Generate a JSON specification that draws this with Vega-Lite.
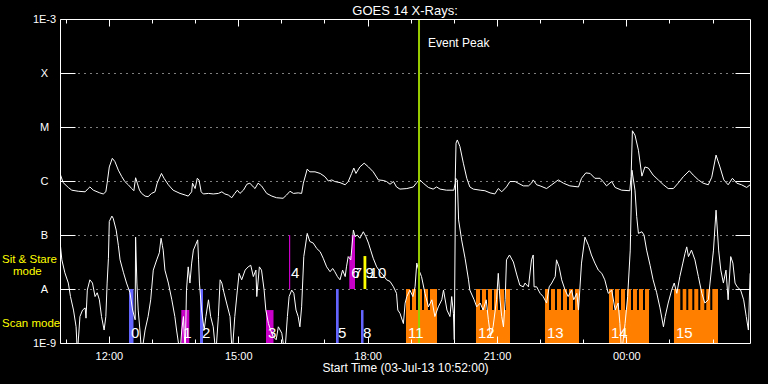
{
  "$schema": "https://vega.github.io/schema/vega-lite/v6.json",
  "width": 690,
  "height": 324,
  "autosize": {"type": "none"},
  "padding": {"left": 60, "top": 19, "right": 18, "bottom": 41},
  "background": "black",
  "title": {"text": "GOES 14 X-Rays:", "color": "white", "font": "Liberation Sans", "fontSize": 13, "fontWeight": "normal", "anchor": "middle", "offset": -5},
  "config": {
    "view": {"stroke": null},
    "font": "Liberation Sans",
    "axis": {"labelColor": "white", "tickColor": "white", "domainColor": "white", "gridColor": "white", "gridOpacity": 1, "labelFont": "Liberation Sans", "labelFontSize": 11, "titleFont": "Liberation Sans", "titleFontSize": 12, "titleFontWeight": "normal", "titleColor": "white", "tickWidth": 1, "domainWidth": 1}
  },
  "resolve": {"axis": {"x": "independent", "y": "independent"}},
  "datasets": {
    "long": [
      {"t":10.88,"lg":-5.89},{"t":10.94,"lg":-6.03},{"t":11.06,"lg":-6.12},{"t":11.14,"lg":-6.17},{"t":11.29,"lg":-6.19},{"t":11.45,"lg":-6.20},{"t":11.52,"lg":-6.14},{"t":11.56,"lg":-6.11},{"t":11.64,"lg":-6.17},{"t":11.79,"lg":-6.22},{"t":11.87,"lg":-6.24},{"t":11.93,"lg":-6.20},{"t":11.96,"lg":-6.04},{"t":12.01,"lg":-5.74},{"t":12.08,"lg":-5.58},{"t":12.14,"lg":-5.64},{"t":12.22,"lg":-5.80},{"t":12.30,"lg":-5.92},{"t":12.37,"lg":-6.01},{"t":12.45,"lg":-6.07},{"t":12.53,"lg":-6.14},{"t":12.58,"lg":-6.18},{"t":12.62,"lg":-5.94},{"t":12.66,"lg":-6.04},{"t":12.71,"lg":-6.17},{"t":12.76,"lg":-6.23},{"t":12.84,"lg":-6.28},{"t":12.91,"lg":-6.29},{"t":12.99,"lg":-6.23},{"t":13.07,"lg":-6.20},{"t":13.12,"lg":-6.04},{"t":13.22,"lg":-5.86},{"t":13.28,"lg":-5.95},{"t":13.38,"lg":-6.07},{"t":13.49,"lg":-6.17},{"t":13.65,"lg":-6.23},{"t":13.77,"lg":-6.26},{"t":13.84,"lg":-6.28},{"t":13.92,"lg":-6.20},{"t":13.94,"lg":-6.04},{"t":14.00,"lg":-6.14},{"t":14.05,"lg":-5.95},{"t":14.09,"lg":-5.98},{"t":14.14,"lg":-6.20},{"t":14.19,"lg":-6.24},{"t":14.31,"lg":-6.23},{"t":14.42,"lg":-6.24},{"t":14.54,"lg":-6.23},{"t":14.62,"lg":-6.20},{"t":14.69,"lg":-6.24},{"t":14.77,"lg":-6.26},{"t":14.85,"lg":-6.31},{"t":14.92,"lg":-6.23},{"t":14.98,"lg":-6.17},{"t":15.04,"lg":-6.23},{"t":15.12,"lg":-6.17},{"t":15.20,"lg":-6.06},{"t":15.27,"lg":-6.04},{"t":15.35,"lg":-6.11},{"t":15.39,"lg":-6.14},{"t":15.46,"lg":-6.04},{"t":15.54,"lg":-6.09},{"t":15.66,"lg":-6.23},{"t":15.78,"lg":-6.28},{"t":15.89,"lg":-6.31},{"t":16.04,"lg":-6.32},{"t":16.12,"lg":-6.26},{"t":16.20,"lg":-6.19},{"t":16.28,"lg":-6.23},{"t":16.39,"lg":-6.22},{"t":16.47,"lg":-6.23},{"t":16.51,"lg":-6.04},{"t":16.60,"lg":-5.78},{"t":16.66,"lg":-5.83},{"t":16.78,"lg":-5.83},{"t":16.90,"lg":-5.86},{"t":17.01,"lg":-5.92},{"t":17.09,"lg":-6.00},{"t":17.17,"lg":-5.98},{"t":17.24,"lg":-6.01},{"t":17.36,"lg":-6.03},{"t":17.48,"lg":-6.07},{"t":17.55,"lg":-6.01},{"t":17.63,"lg":-5.86},{"t":17.68,"lg":-5.76},{"t":17.73,"lg":-5.86},{"t":17.82,"lg":-5.74},{"t":17.92,"lg":-5.67},{"t":18.02,"lg":-5.74},{"t":18.13,"lg":-5.83},{"t":18.25,"lg":-5.98},{"t":18.36,"lg":-5.99},{"t":18.44,"lg":-6.01},{"t":18.52,"lg":-6.06},{"t":18.60,"lg":-6.01},{"t":18.67,"lg":-6.11},{"t":18.75,"lg":-6.15},{"t":18.91,"lg":-6.14},{"t":19.06,"lg":-6.11},{"t":19.14,"lg":-6.03},{"t":19.20,"lg":-5.97},{"t":19.29,"lg":-6.04},{"t":19.41,"lg":-6.12},{"t":19.52,"lg":-6.15},{"t":19.60,"lg":-6.11},{"t":19.68,"lg":-6.15},{"t":19.83,"lg":-6.17},{"t":20.00,"lg":-6.17},{"t":20.03,"lg":-6.04},{"t":20.05,"lg":-5.30},{"t":20.08,"lg":-5.24},{"t":20.14,"lg":-5.36},{"t":20.22,"lg":-5.67},{"t":20.30,"lg":-5.95},{"t":20.37,"lg":-6.11},{"t":20.45,"lg":-6.15},{"t":20.61,"lg":-6.17},{"t":20.72,"lg":-6.18},{"t":20.84,"lg":-6.22},{"t":20.95,"lg":-6.24},{"t":21.03,"lg":-6.14},{"t":21.11,"lg":-6.20},{"t":21.22,"lg":-6.11},{"t":21.30,"lg":-6.01},{"t":21.42,"lg":-6.01},{"t":21.49,"lg":-6.04},{"t":21.61,"lg":-6.09},{"t":21.73,"lg":-6.09},{"t":21.80,"lg":-6.04},{"t":21.84,"lg":-5.98},{"t":21.92,"lg":-6.07},{"t":22.00,"lg":-6.09},{"t":22.15,"lg":-6.14},{"t":22.27,"lg":-6.07},{"t":22.42,"lg":-5.98},{"t":22.54,"lg":-6.04},{"t":22.69,"lg":-6.09},{"t":22.89,"lg":-6.11},{"t":22.96,"lg":-5.95},{"t":23.06,"lg":-5.85},{"t":23.16,"lg":-5.86},{"t":23.27,"lg":-5.95},{"t":23.39,"lg":-5.95},{"t":23.46,"lg":-6.01},{"t":23.54,"lg":-6.09},{"t":23.66,"lg":-6.01},{"t":23.74,"lg":-6.12},{"t":23.89,"lg":-6.17},{"t":24.08,"lg":-6.18},{"t":24.11,"lg":-5.92},{"t":24.14,"lg":-5.07},{"t":24.20,"lg":-5.15},{"t":24.28,"lg":-5.43},{"t":24.36,"lg":-5.91},{"t":24.43,"lg":-5.74},{"t":24.51,"lg":-5.76},{"t":24.62,"lg":-5.89},{"t":24.74,"lg":-5.98},{"t":24.86,"lg":-6.07},{"t":24.97,"lg":-6.14},{"t":25.09,"lg":-6.14},{"t":25.20,"lg":-6.04},{"t":25.32,"lg":-5.92},{"t":25.46,"lg":-5.81},{"t":25.55,"lg":-5.89},{"t":25.67,"lg":-5.98},{"t":25.78,"lg":-6.04},{"t":25.90,"lg":-6.07},{"t":25.98,"lg":-5.93},{"t":26.08,"lg":-5.52},{"t":26.17,"lg":-5.74},{"t":26.26,"lg":-5.98},{"t":26.36,"lg":-6.07},{"t":26.46,"lg":-5.95},{"t":26.56,"lg":-6.04},{"t":26.67,"lg":-6.07},{"t":26.79,"lg":-6.12},{"t":26.87,"lg":-6.07}
    ],
    "short": [
      {"t":10.88,"lg":-7.22},{"t":10.91,"lg":-7.46},{"t":10.98,"lg":-7.70},{"t":11.06,"lg":-7.89},{"t":11.11,"lg":-8.14},{"t":11.18,"lg":-8.39},{"t":11.24,"lg":-8.70},{"t":11.27,"lg":-9.2},{"t":11.33,"lg":-8.51},{"t":11.39,"lg":-8.39},{"t":11.45,"lg":-8.35},{"t":11.47,"lg":-8.54},{"t":11.50,"lg":-8.02},{"t":11.56,"lg":-7.83},{"t":11.62,"lg":-7.89},{"t":11.68,"lg":-8.14},{"t":11.73,"lg":-8.07},{"t":11.78,"lg":-8.20},{"t":11.83,"lg":-8.51},{"t":11.89,"lg":-8.76},{"t":11.93,"lg":-8.51},{"t":11.96,"lg":-7.89},{"t":11.99,"lg":-7.43},{"t":12.01,"lg":-6.75},{"t":12.07,"lg":-6.65},{"t":12.10,"lg":-6.69},{"t":12.17,"lg":-6.91},{"t":12.22,"lg":-7.19},{"t":12.26,"lg":-7.46},{"t":12.34,"lg":-7.70},{"t":12.41,"lg":-7.89},{"t":12.49,"lg":-8.07},{"t":12.55,"lg":-8.39},{"t":12.61,"lg":-8.57},{"t":12.62,"lg":-7.04},{"t":12.65,"lg":-7.89},{"t":12.68,"lg":-8.39},{"t":12.72,"lg":-8.76},{"t":12.76,"lg":-9.2},{"t":12.84,"lg":-8.76},{"t":12.91,"lg":-8.51},{"t":12.97,"lg":-8.20},{"t":13.03,"lg":-7.65},{"t":13.11,"lg":-7.46},{"t":13.17,"lg":-7.33},{"t":13.21,"lg":-7.06},{"t":13.24,"lg":-7.19},{"t":13.26,"lg":-7.28},{"t":13.30,"lg":-7.65},{"t":13.38,"lg":-7.89},{"t":13.46,"lg":-8.20},{"t":13.53,"lg":-8.51},{"t":13.57,"lg":-8.76},{"t":13.65,"lg":-9.2},{"t":13.69,"lg":-8.76},{"t":13.73,"lg":-8.51},{"t":13.77,"lg":-9.2},{"t":13.80,"lg":-8.02},{"t":13.84,"lg":-7.59},{"t":13.88,"lg":-7.89},{"t":13.92,"lg":-7.52},{"t":13.96,"lg":-7.28},{"t":14.06,"lg":-7.09},{"t":14.08,"lg":-7.46},{"t":14.10,"lg":-7.89},{"t":14.15,"lg":-8.39},{"t":14.21,"lg":-8.76},{"t":14.25,"lg":-8.51},{"t":14.31,"lg":-8.20},{"t":14.36,"lg":-8.51},{"t":14.42,"lg":-8.70},{"t":14.48,"lg":-9.2},{"t":14.54,"lg":-8.51},{"t":14.58,"lg":-7.83},{"t":14.62,"lg":-7.89},{"t":14.67,"lg":-8.07},{"t":14.73,"lg":-8.26},{"t":14.81,"lg":-8.51},{"t":14.86,"lg":-9.2},{"t":14.92,"lg":-8.51},{"t":14.98,"lg":-8.02},{"t":15.02,"lg":-7.71},{"t":15.08,"lg":-7.83},{"t":15.16,"lg":-7.65},{"t":15.23,"lg":-7.59},{"t":15.29,"lg":-7.56},{"t":15.35,"lg":-7.77},{"t":15.41,"lg":-7.65},{"t":15.43,"lg":-8.14},{"t":15.49,"lg":-7.59},{"t":15.54,"lg":-7.65},{"t":15.60,"lg":-8.02},{"t":15.64,"lg":-8.39},{"t":15.70,"lg":-8.64},{"t":15.75,"lg":-8.76},{"t":15.81,"lg":-8.88},{"t":15.88,"lg":-8.94},{"t":15.93,"lg":-8.70},{"t":16.01,"lg":-8.82},{"t":16.08,"lg":-9.2},{"t":16.14,"lg":-8.51},{"t":16.18,"lg":-8.14},{"t":16.24,"lg":-8.02},{"t":16.29,"lg":-8.08},{"t":16.34,"lg":-8.39},{"t":16.39,"lg":-8.51},{"t":16.43,"lg":-8.70},{"t":16.47,"lg":-8.33},{"t":16.52,"lg":-7.40},{"t":16.60,"lg":-6.97},{"t":16.66,"lg":-7.12},{"t":16.74,"lg":-7.15},{"t":16.82,"lg":-7.25},{"t":16.90,"lg":-7.31},{"t":16.97,"lg":-7.43},{"t":17.05,"lg":-7.59},{"t":17.13,"lg":-7.68},{"t":17.19,"lg":-7.62},{"t":17.24,"lg":-7.68},{"t":17.30,"lg":-7.77},{"t":17.36,"lg":-7.83},{"t":17.42,"lg":-7.65},{"t":17.48,"lg":-7.77},{"t":17.51,"lg":-7.59},{"t":17.55,"lg":-7.40},{"t":17.61,"lg":-7.46},{"t":17.67,"lg":-6.91},{"t":17.71,"lg":-7.03},{"t":17.76,"lg":-7.00},{"t":17.82,"lg":-7.06},{"t":17.90,"lg":-6.94},{"t":17.96,"lg":-7.03},{"t":18.02,"lg":-7.15},{"t":18.07,"lg":-7.28},{"t":18.13,"lg":-7.43},{"t":18.21,"lg":-7.59},{"t":18.29,"lg":-7.68},{"t":18.36,"lg":-7.74},{"t":18.44,"lg":-7.83},{"t":18.52,"lg":-7.86},{"t":18.60,"lg":-7.96},{"t":18.67,"lg":-8.08},{"t":18.70,"lg":-8.39},{"t":18.75,"lg":-8.45},{"t":18.83,"lg":-8.64},{"t":18.87,"lg":-8.26},{"t":18.91,"lg":-8.14},{"t":18.98,"lg":-8.02},{"t":19.05,"lg":-8.14},{"t":19.10,"lg":-7.96},{"t":19.14,"lg":-7.52},{"t":19.17,"lg":-7.61},{"t":19.25,"lg":-7.77},{"t":19.33,"lg":-8.08},{"t":19.41,"lg":-8.33},{"t":19.49,"lg":-8.20},{"t":19.56,"lg":-8.51},{"t":19.64,"lg":-8.33},{"t":19.72,"lg":-8.20},{"t":19.76,"lg":-8.02},{"t":19.84,"lg":-8.39},{"t":19.91,"lg":-8.51},{"t":19.95,"lg":-8.14},{"t":19.99,"lg":-8.45},{"t":20.01,"lg":-8.94},{"t":20.04,"lg":-5.95},{"t":20.08,"lg":-5.98},{"t":20.11,"lg":-6.72},{"t":20.18,"lg":-7.09},{"t":20.26,"lg":-7.43},{"t":20.34,"lg":-7.83},{"t":20.37,"lg":-8.02},{"t":20.47,"lg":-8.20},{"t":20.53,"lg":-8.33},{"t":20.61,"lg":-8.26},{"t":20.68,"lg":-8.39},{"t":20.75,"lg":-8.20},{"t":20.80,"lg":-8.57},{"t":20.85,"lg":-8.88},{"t":20.91,"lg":-8.70},{"t":20.99,"lg":-8.20},{"t":21.03,"lg":-7.71},{"t":21.07,"lg":-8.20},{"t":21.11,"lg":-8.51},{"t":21.15,"lg":-8.70},{"t":21.19,"lg":-8.20},{"t":21.22,"lg":-7.46},{"t":21.29,"lg":-7.37},{"t":21.38,"lg":-7.50},{"t":21.46,"lg":-7.74},{"t":21.53,"lg":-7.93},{"t":21.61,"lg":-7.96},{"t":21.65,"lg":-7.89},{"t":21.73,"lg":-7.96},{"t":21.80,"lg":-7.46},{"t":21.84,"lg":-7.37},{"t":21.86,"lg":-7.96},{"t":21.92,"lg":-7.96},{"t":22.00,"lg":-8.08},{"t":22.07,"lg":-8.14},{"t":22.15,"lg":-8.26},{"t":22.21,"lg":-7.96},{"t":22.27,"lg":-7.89},{"t":22.35,"lg":-7.77},{"t":22.38,"lg":-7.46},{"t":22.44,"lg":-7.59},{"t":22.50,"lg":-7.83},{"t":22.58,"lg":-8.02},{"t":22.65,"lg":-8.14},{"t":22.73,"lg":-8.02},{"t":22.78,"lg":-8.20},{"t":22.85,"lg":-8.08},{"t":22.89,"lg":-8.39},{"t":22.92,"lg":-8.02},{"t":22.96,"lg":-7.52},{"t":23.04,"lg":-7.04},{"t":23.12,"lg":-7.19},{"t":23.19,"lg":-7.37},{"t":23.27,"lg":-7.52},{"t":23.35,"lg":-7.65},{"t":23.43,"lg":-7.71},{"t":23.50,"lg":-7.83},{"t":23.58,"lg":-8.08},{"t":23.66,"lg":-8.02},{"t":23.74,"lg":-8.39},{"t":23.81,"lg":-8.26},{"t":23.85,"lg":-8.64},{"t":23.89,"lg":-9.2},{"t":23.97,"lg":-8.64},{"t":24.03,"lg":-8.14},{"t":24.09,"lg":-7.28},{"t":24.13,"lg":-5.80},{"t":24.20,"lg":-6.17},{"t":24.24,"lg":-6.66},{"t":24.28,"lg":-6.97},{"t":24.36,"lg":-6.94},{"t":24.41,"lg":-7.00},{"t":24.47,"lg":-7.28},{"t":24.55,"lg":-7.56},{"t":24.62,"lg":-7.83},{"t":24.70,"lg":-8.06},{"t":24.78,"lg":-8.35},{"t":24.86,"lg":-8.70},{"t":24.90,"lg":-8.51},{"t":24.97,"lg":-8.26},{"t":25.05,"lg":-8.02},{"t":25.11,"lg":-7.89},{"t":25.17,"lg":-8.08},{"t":25.24,"lg":-7.77},{"t":25.31,"lg":-7.52},{"t":25.36,"lg":-7.34},{"t":25.40,"lg":-7.22},{"t":25.44,"lg":-7.40},{"t":25.51,"lg":-7.28},{"t":25.59,"lg":-7.46},{"t":25.67,"lg":-7.77},{"t":25.75,"lg":-8.08},{"t":25.82,"lg":-8.26},{"t":25.90,"lg":-8.20},{"t":25.94,"lg":-7.89},{"t":26.02,"lg":-7.28},{"t":26.08,"lg":-6.54},{"t":26.14,"lg":-7.28},{"t":26.19,"lg":-7.65},{"t":26.25,"lg":-7.89},{"t":26.31,"lg":-7.65},{"t":26.36,"lg":-8.20},{"t":26.42,"lg":-7.40},{"t":26.47,"lg":-7.52},{"t":26.52,"lg":-7.89},{"t":26.57,"lg":-7.96},{"t":26.65,"lg":-8.02},{"t":26.72,"lg":-8.20},{"t":26.78,"lg":-8.51},{"t":26.83,"lg":-8.76},{"t":26.87,"lg":-7.71}
    ],
    "obs": [
      {"id":"0","mode":"scan","kind":"K1","t0":12.467,"t1":12.571,"lo":-9,"hi":-8},
      {"id":"1","mode":"scan","kind":"K2","t0":13.680,"t1":13.865,"lo":-9,"hi":-8.39},
      {"id":"2","mode":"scan","kind":"K1","t0":14.113,"t1":14.183,"lo":-9,"hi":-8},
      {"id":"3","mode":"scan","kind":"K2","t0":15.644,"t1":15.818,"lo":-9,"hi":-8.39},
      {"id":"4","mode":"sit","kind":"K2","t0":16.177,"t1":16.205,"lo":-8,"hi":-7},
      {"id":"5","mode":"scan","kind":"K1","t0":17.267,"t1":17.329,"lo":-9,"hi":-8},
      {"id":"6","mode":"sit","kind":"K2","t0":17.575,"t1":17.638,"lo":-8,"hi":-7.39},
      {"id":"7","mode":"sit","kind":"K2","t0":17.631,"t1":17.707,"lo":-8,"hi":-7},
      {"id":"8","mode":"scan","kind":"K1","t0":17.847,"t1":17.905,"lo":-9,"hi":-8.39},
      {"id":"9","mode":"sit","kind":"K3","t0":17.905,"t1":17.970,"lo":-8,"hi":-7.39},
      {"id":"10","mode":"sit","kind":"K3","t0":18.000,"t1":18.000,"lo":-8,"hi":-8},
      {"id":"11","mode":"scan","kind":"K4","t0":18.890,"t1":19.609,"lo":-9,"hi":-8.39},
      {"id":"12","mode":"scan","kind":"K4","t0":20.513,"t1":21.302,"lo":-9,"hi":-8.39},
      {"id":"13","mode":"scan","kind":"K4","t0":22.113,"t1":22.902,"lo":-9,"hi":-8.39},
      {"id":"14","mode":"scan","kind":"K4","t0":23.597,"t1":24.525,"lo":-9,"hi":-8.39},
      {"id":"15","mode":"scan","kind":"K4","t0":25.104,"t1":26.125,"lo":-9,"hi":-8.39}
    ],
    "stripes": [
      {"obs":"11","t0":18.890,"t1":18.983},{"obs":"11","t0":19.029,"t1":19.122},{"obs":"11","t0":19.168,"t1":19.261},{"obs":"11","t0":19.307,"t1":19.400},{"obs":"11","t0":19.447,"t1":19.609},
      {"obs":"12","t0":20.513,"t1":20.606},{"obs":"12","t0":20.652,"t1":20.745},{"obs":"12","t0":20.791,"t1":20.884},{"obs":"12","t0":20.931,"t1":21.024},{"obs":"12","t0":21.070,"t1":21.163},{"obs":"12","t0":21.209,"t1":21.302},
      {"obs":"13","t0":22.113,"t1":22.206},{"obs":"13","t0":22.252,"t1":22.345},{"obs":"13","t0":22.392,"t1":22.484},{"obs":"13","t0":22.531,"t1":22.623},{"obs":"13","t0":22.670,"t1":22.762},{"obs":"13","t0":22.809,"t1":22.902},
      {"obs":"14","t0":23.597,"t1":23.690},{"obs":"14","t0":23.736,"t1":23.829},{"obs":"14","t0":23.876,"t1":23.968},{"obs":"14","t0":24.015,"t1":24.107},{"obs":"14","t0":24.154,"t1":24.246},{"obs":"14","t0":24.293,"t1":24.386},{"obs":"14","t0":24.432,"t1":24.525},
      {"obs":"15","t0":25.104,"t1":25.250},{"obs":"15","t0":25.306,"t1":25.390},{"obs":"15","t0":25.436,"t1":25.529},{"obs":"15","t0":25.575,"t1":25.668},{"obs":"15","t0":25.714,"t1":25.807},{"obs":"15","t0":25.853,"t1":25.946},{"obs":"15","t0":25.993,"t1":26.125}
    ],
    "event": [{"t":19.192,"label":"Event Peak"}],
    "modes": [
      {"label":"Sit & Stare","lg":-7.52,"line":1},
      {"label":"mode","lg":-7.74,"line":2},
      {"label":"Scan mode","lg":-8.70,"line":1}
    ]
  },
  "layer": [
    {
      "data": {"name": "obs"},
      "mark": {"type": "rect"},
      "encoding": {
        "x": {"field": "t0", "type": "quantitative", "scale": {"domain": [10.867, 26.867], "nice": false, "zero": false},
          "axis": {"orient": "bottom", "values": [12, 15, 18, 21, 24], "labelExpr": "(datum.value % 24 < 10 ? '0' : '') + (datum.value % 24) + ':00'", "ticks": false, "domain": false, "grid": false, "labelPadding": 7, "title": "Start Time (03-Jul-13 10:52:00)", "titlePadding": 1}},
        "x2": {"field": "t1"},
        "y": {"field": "lo", "type": "quantitative", "scale": {"domain": [-9, -3], "nice": false, "zero": false},
          "axis": {"orient": "left", "values": [-9, -8, -7, -6, -5, -4, -3], "labelExpr": "['1E-9','A','B','C','M','X','1E-3'][datum.value + 9]", "ticks": false, "domain": false, "grid": true, "gridDash": [1, 5], "labelPadding": 16, "labelAlign": "center", "title": null}},
        "y2": {"field": "hi"},
        "color": {"field": "kind", "type": "nominal", "scale": {"domain": ["K1", "K2", "K3", "K4"], "range": ["#6464ff", "#c800c8", "#ffff00", "#ff8000"]}, "legend": null}
      }
    },
    {
      "data": {"name": "stripes"},
      "mark": {"type": "rect", "color": "#ff8000"},
      "encoding": {
        "x": {"field": "t0", "type": "quantitative", "axis": {"orient": "bottom", "values": [12, 15, 18, 21, 24], "labels": false, "tickSize": -7, "domain": true, "grid": false, "title": null, "zindex": 1}},
        "x2": {"field": "t1"},
        "y": {"datum": -8.39, "type": "quantitative", "axis": null},
        "y2": {"datum": -8}
      }
    },
    {
      "data": {"name": "long"},
      "mark": {"type": "line", "color": "white", "strokeWidth": 1, "clip": true},
      "encoding": {
        "x": {"field": "t", "type": "quantitative", "axis": {"orient": "bottom", "values": [11, 12, 13, 14, 15, 16, 17, 18, 19, 20, 21, 22, 23, 24, 25, 26], "labels": false, "tickSize": -4, "domain": false, "grid": false, "title": null, "zindex": 1}},
        "y": {"field": "lg", "type": "quantitative", "axis": {"orient": "left", "values": [-8, -7, -6, -5, -4], "labels": false, "tickSize": -15, "domain": true, "grid": false, "title": null, "zindex": 1}}
      }
    },
    {
      "data": {"name": "short"},
      "mark": {"type": "line", "color": "white", "strokeWidth": 1, "clip": true},
      "encoding": {
        "x": {"field": "t", "type": "quantitative", "axis": {"orient": "top", "values": [12, 15, 18, 21, 24], "labels": false, "tickSize": -7, "domain": true, "grid": false, "title": null, "zindex": 1}},
        "y": {"field": "lg", "type": "quantitative", "axis": {"orient": "right", "values": [-8, -7, -6, -5, -4], "labels": false, "tickSize": -15, "domain": true, "grid": false, "title": null, "zindex": 1}}
      }
    },
    {
      "data": {"name": "event"},
      "mark": {"type": "rule", "color": "#99cc00", "strokeWidth": 2},
      "encoding": {
        "x": {"field": "t", "type": "quantitative", "axis": {"orient": "top", "values": [11, 12, 13, 14, 15, 16, 17, 18, 19, 20, 21, 22, 23, 24, 25, 26], "labels": false, "tickSize": -4, "domain": false, "grid": false, "title": null, "zindex": 1}}
      }
    },
    {
      "data": {"name": "event"},
      "mark": {"type": "text", "color": "white", "font": "Liberation Sans", "fontSize": 12, "align": "left", "baseline": "alphabetic", "dx": 9},
      "encoding": {
        "x": {"field": "t", "type": "quantitative", "axis": null},
        "y": {"datum": -3.52, "type": "quantitative", "axis": null},
        "text": {"field": "label"}
      }
    },
    {
      "data": {"name": "obs"},
      "transform": [{"filter": "datum.mode == 'scan'"}],
      "mark": {"type": "text", "color": "white", "font": "Liberation Sans", "fontSize": 15, "align": "left", "baseline": "alphabetic", "dx": 2, "dy": -5},
      "encoding": {
        "x": {"field": "t0", "type": "quantitative", "axis": null},
        "y": {"field": "lo", "type": "quantitative", "axis": null},
        "text": {"field": "id"}
      }
    },
    {
      "data": {"name": "obs"},
      "transform": [{"filter": "datum.mode == 'sit'"}],
      "mark": {"type": "text", "color": "white", "font": "Liberation Sans", "fontSize": 15, "align": "left", "baseline": "alphabetic", "dx": 2, "dy": -11},
      "encoding": {
        "x": {"field": "t0", "type": "quantitative", "axis": null},
        "y": {"field": "lo", "type": "quantitative", "axis": null},
        "text": {"field": "id"}
      }
    },
    {
      "data": {"name": "modes"},
      "transform": [{"filter": "datum.line == 1"}],
      "mark": {"type": "text", "color": "#ffff00", "font": "Liberation Sans", "fontSize": 11.5, "align": "left", "baseline": "alphabetic", "dx": -58},
      "encoding": {
        "x": {"datum": 10.867, "type": "quantitative", "axis": null},
        "y": {"field": "lg", "type": "quantitative", "axis": null},
        "text": {"field": "label"}
      }
    },
    {
      "data": {"name": "modes"},
      "transform": [{"filter": "datum.line == 2"}],
      "mark": {"type": "text", "color": "#ffff00", "font": "Liberation Sans", "fontSize": 11.5, "align": "left", "baseline": "alphabetic", "dx": -47},
      "encoding": {
        "x": {"datum": 10.867, "type": "quantitative", "axis": null},
        "y": {"field": "lg", "type": "quantitative", "axis": null},
        "text": {"field": "label"}
      }
    }
  ]
}
